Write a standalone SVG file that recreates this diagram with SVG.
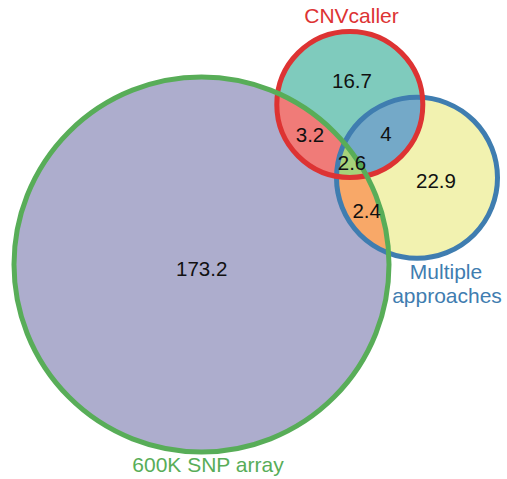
<svg xmlns="http://www.w3.org/2000/svg" width="507" height="479" viewBox="0 0 507 479">
<style>
.num{font-family:"Liberation Sans",Arial,sans-serif;font-size:20.5px;fill:#111;text-anchor:middle}
.lab{font-family:"Liberation Sans",Arial,sans-serif;font-size:21px;text-anchor:middle}
.ring{fill:none;stroke-width:5}
</style>
<defs>
<clipPath id="cG"><circle cx="201.5" cy="264.5" r="187.5"/></clipPath>
<clipPath id="cR"><circle cx="349.8" cy="104.5" r="73"/></clipPath>
<clipPath id="cB"><circle cx="417" cy="177.8" r="80.5"/></clipPath>
</defs>
<rect width="507" height="479" fill="#fff"/>
<g id="regions">
<circle cx="201.5" cy="264.5" r="187.5" fill="#adadcd"/>
<circle cx="349.8" cy="104.5" r="73" fill="#7fcbbd"/>
<circle cx="417" cy="177.8" r="80.5" fill="#f2f2b0"/>
<circle cx="349.8" cy="104.5" r="73" fill="#f07b78" clip-path="url(#cG)"/>
<circle cx="417" cy="177.8" r="80.5" fill="#74a9c8" clip-path="url(#cR)"/>
<circle cx="417" cy="177.8" r="80.5" fill="#f8a868" clip-path="url(#cG)"/>
<g clip-path="url(#cG)"><circle cx="417" cy="177.8" r="80.5" fill="#a6d27a" clip-path="url(#cR)"/></g>
</g>
<g id="multiple">
<circle class="ring" cx="417" cy="177.8" r="80.5" stroke="#3f7db0"/>
<text class="lab" x="446" y="279" fill="#3f7db0">Multiple</text>
<text class="lab" x="447" y="303" fill="#3f7db0">approaches</text>
</g>
<g id="cnvcaller">
<circle class="ring" cx="349.8" cy="104.5" r="73" stroke="#dd3333"/>
<text class="lab" x="351.5" y="23.3" fill="#dd3333">CNVcaller</text>
</g>
<g id="snp">
<circle class="ring" cx="201.5" cy="264.5" r="187.5" stroke="#58ad58"/>
<text class="lab" x="208" y="471.7" fill="#58ad58">600K SNP array</text>
</g>
<g id="numbers">
<text class="num" x="201.7" y="276">173.2</text>
<text class="num" x="352" y="88.3">16.7</text>
<text class="num" x="310" y="141.7">3.2</text>
<text class="num" x="386" y="140.7">4</text>
<text class="num" x="352" y="170">2.6</text>
<text class="num" x="436" y="188.3">22.9</text>
<text class="num" x="366.7" y="218.3">2.4</text>
</g>
</svg>
